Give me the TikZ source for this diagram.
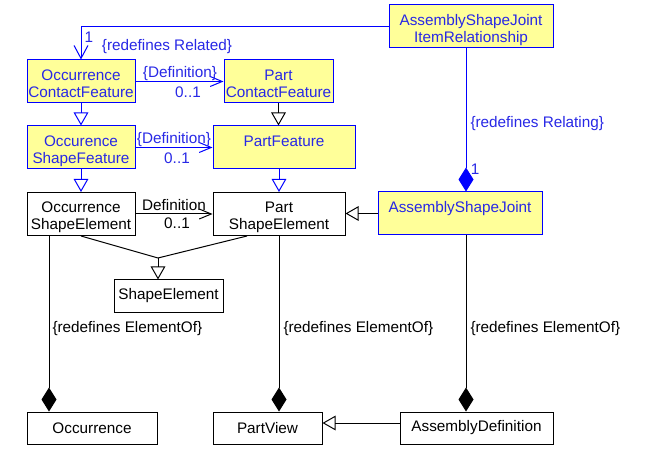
\documentclass[tikz,border=0pt]{standalone}
\usepackage{fontspec}
\setmainfont{Liberation Sans}
\usetikzlibrary{arrows.meta,calc}
\definecolor{boxyellow}{RGB}{255,255,153}
\definecolor{umlblue}{RGB}{0,0,255}
\definecolor{umltext}{RGB}{40,40,230}
\newcommand\boxlines[2]{\rule{0pt}{17.4pt}#1\\#2\rule[-3pt]{0pt}{3pt}}
\begin{document}
\begin{tikzpicture}[x=1pt,y=-1pt,line width=1pt,
  every node/.style={font=\fontsize{15.3}{17}\selectfont},
  box/.style={draw=black,fill=white,text=black,inner sep=0pt,align=center,minimum height=32pt},
  ybox/.style={box,draw=umlblue,fill=boxyellow,text=umltext,minimum height=43pt},
  tbox/.style={box,minimum height=43pt},
  bl/.style={draw=umlblue},
  lbl/.style={inner sep=0pt},
  blbl/.style={inner sep=0pt,text=umltext},
  tri/.style={-{Triangle[open,length=13pt,width=14.6pt]}},
  vee/.style={-{Straight Barb[length=12pt,width=10pt]}},
  veeb/.style={-{Straight Barb[length=13pt,width=14pt]}},
  dia/.style={-{Diamond[length=24pt,width=15pt]}}
]
\useasboundingbox[fill=white] (0,0) rectangle (645,454);

% boxes
\node[ybox,minimum width=164pt] (asjir) at (471,26.5) {\boxlines{AssemblyShapeJoint}{ItemRelationship}};
\node[ybox,minimum width=108pt] (ocf) at (81,81.5) {\boxlines{Occurrence}{ContactFeature}};
\node[ybox,minimum width=109pt] (pcf) at (278.5,81.5) {\boxlines{Part}{ContactFeature}};
\node[ybox,minimum width=108pt] (osf) at (81,147.5) {\boxlines{Occurence}{ShapeFeature}};
\node[ybox,minimum width=142pt] (pf) at (284,147.5) {\boxlines{PartFeature}{\phantom{A}}};
\node[tbox,minimum width=108pt] (ose) at (81,214) {\boxlines{Occurrence}{ShapeElement}};
\node[tbox,minimum width=132pt] (pse) at (279,214) {\boxlines{Part}{ShapeElement}};
\node[ybox,minimum width=164pt] (asj) at (460,213.5) {\boxlines{AssemblyShapeJoint}{\phantom{A}}};
\node[box,minimum width=109pt] (se) at (168.5,296) {ShapeElement};
\node[box,minimum width=130pt] (occ) at (92,428) {Occurrence};
\node[box,minimum width=109pt] (pv) at (267.5,428) {PartView};
\node[box,minimum width=153pt] (ad) at (476.5,428) {AssemblyDefinition};

% blue associations
\draw[bl,veeb] (asjir.west) -| (ocf.north);
\node[blbl] (m1) at (89,37) {1};
\node[blbl] (r1) at (167,47) {\{redefines Related\}};

\draw[bl,vee] (ocf.east) -- (pcf.west);
\node[blbl] (d1) at (180,74) {\{Definition\}};
\node[blbl] (c1) at (188,92) {0..1};

\draw[bl,vee] (osf.east) -- (osf.east -| pf.west);
\node[blbl] (d2) at (174,140) {\{Definition\}};
\node[blbl] (c2) at (177,158) {0..1};

\draw[bl,-{Diamond[length=24pt,width=15pt,umlblue]}] ([xshift=-5pt]asjir.south) -- ([xshift=-5pt]asjir.south |- asj.north);
\node[blbl,anchor=west] (r2) at (470,124) {\{redefines Relating\}};
\node[blbl] (m2) at (475,169) {1};

% generalizations
\draw[bl,tri] (ocf.south) -- (osf.north);
\draw[tri] (pcf.south) -- (pcf.south |- pf.north);
\draw[bl,tri] (osf.south) -- (ose.north);
\draw[bl,tri] (pse.north |- pf.south) -- (pse.north);
\draw[tri] (asj.west) -- (asj.west -| pse.east);
\coordinate (j) at (158,258);
\draw (ose.south) -- (j);
\draw ([xshift=-32pt]pse.south) -- (j);
\draw[tri] (j) -- (j |- se.north);
\draw[tri] ([yshift=5pt]ad.west) -- ([yshift=5pt]ad.west -| pv.east);

% black association
\draw[vee] (ose.east) -- (ose.east -| pse.west);
\node[lbl] (d3) at (174,205) {Definition};
\node[lbl] (c3) at (177,223) {0..1};

% compositions
\draw[dia] ([xshift=-32pt]ose.south) -- ([xshift=-32pt]ose.south |- occ.north);
\node[lbl,anchor=west] (e1) at (52,329) {\{redefines ElementOf\}};
\draw[dia] (pse.south) -- (pse.south |- pv.north);
\node[lbl,anchor=west] (e2) at (283,329) {\{redefines ElementOf\}};
\draw[dia] ([xshift=6pt]asj.south) -- ([xshift=6pt]asj.south |- ad.north);
\node[lbl,anchor=west] (e3) at (470,329) {\{redefines ElementOf\}};
\end{tikzpicture}
\end{document}
